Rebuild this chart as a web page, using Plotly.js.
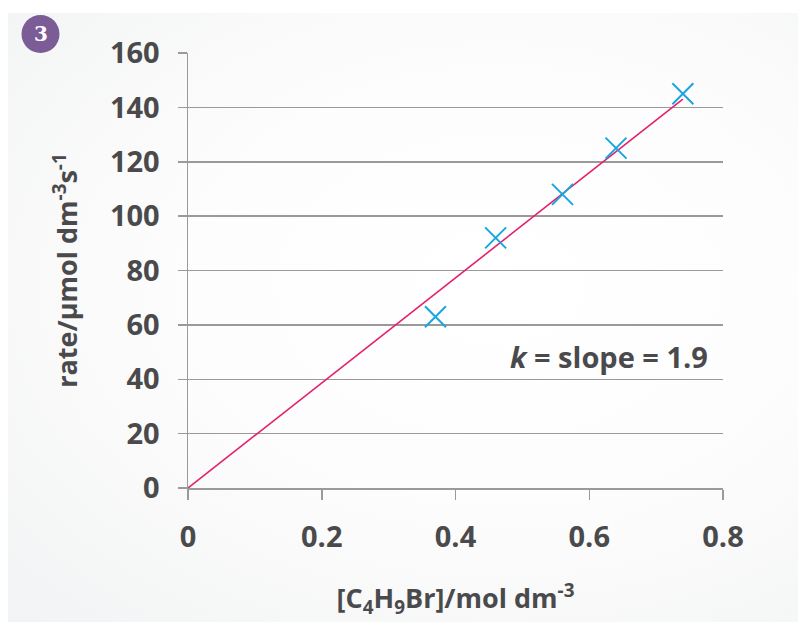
<!DOCTYPE html>
<html>
<head>
<meta charset="utf-8">
<script src="https://cdn.plot.ly/plotly-3.0.1.min.js"></script>
<style>
  html, body { margin: 0; padding: 0; background: #ffffff; }
  #panel { position: absolute; left: 8px; top: 13px; width: 790px; height: 609px;
           background: radial-gradient(ellipse at 62% 45%, #ffffff 0%, #fdfdfd 45%, #f2f3f4 100%); }
  #chart { position: absolute; left: 0; top: 0; width: 798px; height: 622px; }
</style>
</head>
<body>
<div id="panel"></div>
<div id="chart"></div>
<script>
// Data
const concentration = [0.37, 0.46, 0.56, 0.64, 0.74];   // [C4H9Br] / mol dm^-3
const rate = [63, 92, 108, 125, 145];                  // rate / µmol dm^-3 s^-1
const fitX = [0, 0.74];
const fitY = [0, 143];
const xTicks = [0, 0.2, 0.4, 0.6, 0.8];
const xTickLabels = ['0', '0.2', '0.4', '0.6', '0.8'];
const yTicks = [0, 20, 40, 60, 80, 100, 120, 140, 160];
const yTickLabels = ['0', '20', '40', '60', '80', '100', '120', '140', '160'];

const textColor = '#4a4a4c';
const gridColor = '#9a9a9a';
const fontFam = '"Open Sans", "Noto Sans", sans-serif';

const traces = [
  {
    x: fitX, y: fitY, mode: 'lines', type: 'scatter',
    line: { color: '#e3206f', width: 1.6 }, hoverinfo: 'skip', showlegend: false
  },
  {
    x: concentration, y: rate, mode: 'markers', type: 'scatter',
    marker: { symbol: 'x-thin', size: 21, line: { color: '#18a6e0', width: 2 } },
    showlegend: false
  }
];

const layout = {
  width: 798, height: 622,
  margin: { l: 188, r: 75, t: 53, b: 134 },
  paper_bgcolor: 'rgba(0,0,0,0)',
  plot_bgcolor: 'rgba(0,0,0,0)',
  font: { family: fontFam, color: textColor },
  xaxis: {
    range: [0, 0.8],
    tickvals: xTicks, ticktext: xTickLabels,
    ticks: 'outside', ticklen: 10, tickwidth: 1.5, tickcolor: gridColor,
    showline: true, linecolor: gridColor, linewidth: 1.5,
    showgrid: false, zeroline: false,
    tickfont: { family: fontFam, size: 29, color: textColor, weight: 700 },
    ticklabelstandoff: 13,
    title: { text: '[C<sub>4</sub>H<sub>9</sub>Br]/mol dm<sup>-3</sup>',
             font: { family: fontFam, size: 27, color: textColor, weight: 700 }, standoff: 35 }
  },
  yaxis: {
    range: [0, 160],
    tickvals: yTicks, ticktext: yTickLabels,
    ticks: 'outside', ticklen: 9, tickwidth: 1.5, tickcolor: gridColor,
    showline: true, linecolor: gridColor, linewidth: 1.5,
    showgrid: true, gridcolor: gridColor, gridwidth: 1.5,
    zeroline: false,
    tickfont: { family: fontFam, size: 29, color: textColor, weight: 700 },
    ticklabelstandoff: 12,
    title: { text: 'rate/μmol dm<sup>-3</sup>s<sup>-1</sup>',
             font: { family: fontFam, size: 27, color: textColor, weight: 700 }, standoff: 24 }
  },
  shapes: [
    { type: 'circle', xref: 'paper', yref: 'paper',
      xsizemode: 'pixel', ysizemode: 'pixel',
      xanchor: -0.2757, yanchor: 1.0437,
      x0: -19, x1: 19, y0: -19, y1: 19,
      fillcolor: '#7b5c96', line: { width: 0 } }
  ],
  annotations: [
    { xref: 'x', yref: 'y', x: 0.78, y: 48.5, xanchor: 'right', yanchor: 'middle',
      text: '<i>k</i> = slope = 1.9', showarrow: false,
      font: { family: fontFam, size: 29, color: textColor, weight: 700 } },
    { xref: 'paper', yref: 'paper', x: -0.2757, y: 1.0437, xanchor: 'center', yanchor: 'middle',
      text: '3', showarrow: false,
      font: { family: '"DejaVu Serif", "Liberation Serif", serif', size: 20, color: '#ffffff', weight: 'bold' } }
  ]
};

Plotly.newPlot('chart', traces, layout, { displayModeBar: false, staticPlot: true });
</script>
</body>
</html>
